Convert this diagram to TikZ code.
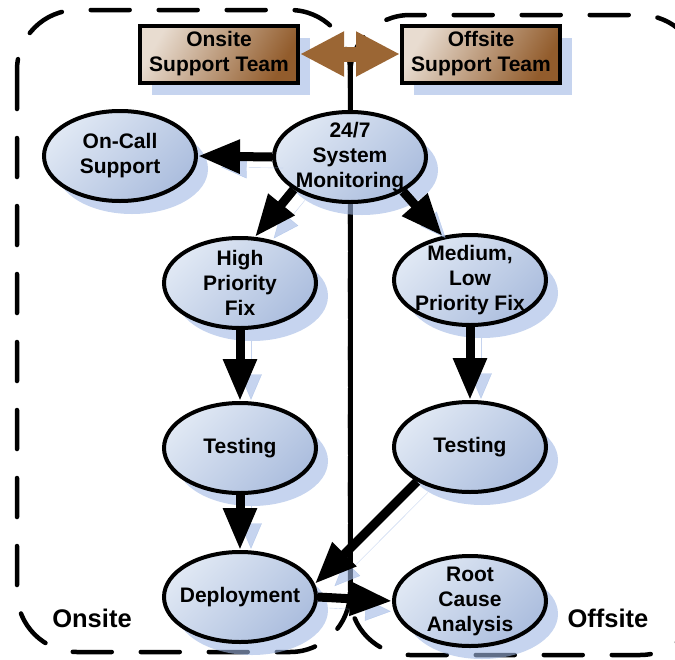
\documentclass[tikz,border=0pt]{standalone}
\usepackage{fontspec}
\setmainfont{Liberation Sans}
\usetikzlibrary{shapes.geometric, arrows.meta, shadows}

\definecolor{ovalLight}{RGB}{224,232,244}
\definecolor{ovalDark}{RGB}{172,190,222}
\definecolor{teamLight}{RGB}{232,220,208}
\definecolor{teamDark}{RGB}{146,92,44}
\definecolor{linkBrown}{RGB}{155,102,52}
\definecolor{shadowBlue}{RGB}{160,184,228}

\newcommand{\diagfont}{\fontsize{21}{25}\selectfont\bfseries}
\newcommand{\sitefont}{\fontsize{25.5}{28}\selectfont\bfseries}

\tikzset{
    region/.style={line width=4.5pt, dash pattern=on 39pt off 29pt, line cap=round, rounded corners=60pt},
    oval/.style={ellipse, draw, line width=4pt, minimum width=152pt, minimum height=90pt, inner sep=0pt,
        top color=ovalLight, bottom color=ovalDark, shading angle=45,
        drop shadow={shadow xshift=12pt, shadow yshift=-13pt, fill=shadowBlue, opacity=0.6}},
    ovaltext/.style={font=\diagfont, align=center},
    team/.style={draw, line width=4pt, minimum width=158pt, minimum height=57pt, inner sep=0pt,
        top color=teamLight, bottom color=teamDark, shading angle=60, font=\diagfont, align=center,
        drop shadow={shadow xshift=12pt, shadow yshift=-12pt, fill=shadowBlue, opacity=0.6}},
    flow/.style={line width=9pt, -{Triangle[length=42pt, width=32pt]},
        preaction={draw=shadowBlue, opacity=0.6, transform canvas={shift={(11pt,-11pt)}}}},
    link/.style={line width=15pt, draw=linkBrown, {Triangle[length=44pt, width=42pt]}-{Triangle[length=44pt, width=42pt]}}
}

\begin{document}
\begin{tikzpicture}[x=1pt, y=-1pt]
    \clip (0,0) rectangle (675,659);

    \draw[region] (17,10) rectangle (350,652);
    \draw[region] (350,15) rectangle (700,655);
    \coordinate (linetop) at (351,62);
    \coordinate (linebottom) at (351,596);
    \draw[line width=4pt] (linetop) -- (linebottom);

    \node[font=\sitefont] (onsitelabel) at (92,618) {Onsite};
    \node[font=\sitefont] (offsitelabel) at (608,618) {Offsite};

    \node[oval, label={[ovaltext]center:On-Call\\Support}] (oncall) at (120,156) {};
    \node[oval, label={[ovaltext]center:24/7\\System\\Monitoring}] (monitor) at (350,157) {};
    \node[oval, label={[ovaltext]center:High\\Priority\\Fix}] (highfix) at (240,283) {};
    \node[oval, label={[ovaltext]center:Medium,\\Low\\Priority Fix}] (lowfix) at (470,280) {};
    \node[oval, label={[ovaltext]center:Testing}] (testhigh) at (240,448) {};
    \node[oval, label={[ovaltext]center:Testing}] (testlow) at (470,447) {};
    \node[oval, label={[ovaltext]center:Deployment}] (deploy) at (240,597) {};
    \node[oval, label={[ovaltext]center:Root\\Cause\\Analysis}] (rootcause) at (470,601) {};

    \draw[flow] (monitor.180) -- (oncall.0);
    \draw[flow] (monitor.210) -- (highfix.72);
    \draw[flow] (monitor.327) -- (lowfix.122);
    \draw[flow] (highfix) -- (testhigh);
    \draw[flow] (lowfix) -- (testlow);
    \draw[flow] (testhigh) -- (deploy);
    \draw[flow] (testlow.213) -- (deploy.10);
    \draw[flow] (deploy.east) -- (rootcause.west);

    \node[team] (onsiteteam) at (219,54) {Onsite\\Support Team};
    \node[team] (offsiteteam) at (481,54) {Offsite\\Support Team};
    \draw[link] (onsiteteam) -- (offsiteteam);
\end{tikzpicture}
\end{document}
